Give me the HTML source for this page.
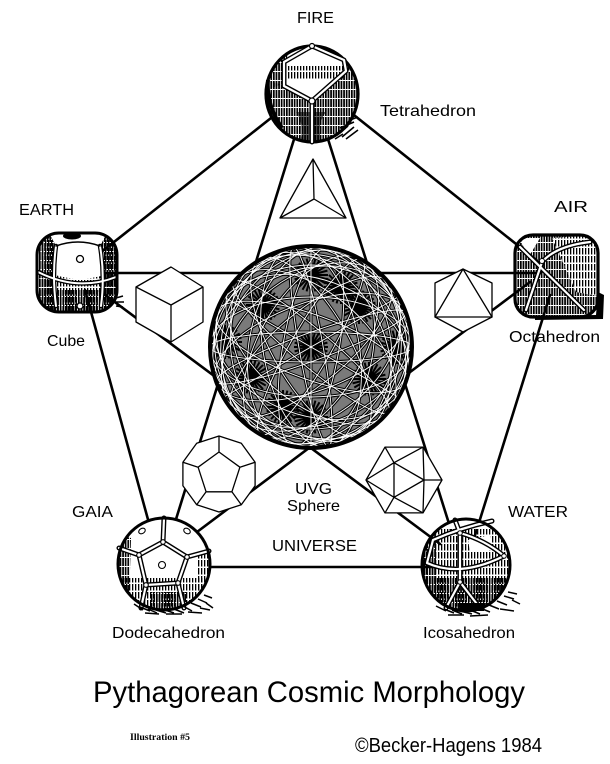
<!DOCTYPE html>
<html><head><meta charset="utf-8"><style>
html,body{margin:0;padding:0;background:#fff;}
svg{display:block;}
text{font-family:"Liberation Sans",sans-serif;fill:#000;}
</style></head><body>
<svg width="610" height="764" viewBox="0 0 610 764" xmlns="http://www.w3.org/2000/svg" xmlns:xlink="http://www.w3.org/1999/xlink">
<defs>
<pattern id="h1" width="3" height="8" patternUnits="userSpaceOnUse"><rect x="0" y="0" width="1.3" height="6.5" fill="#000"/></pattern>
<pattern id="h2" width="2.6" height="9" patternUnits="userSpaceOnUse"><rect x="0" y="0" width="1.7" height="8" fill="#000"/></pattern>
<pattern id="h3" width="4" height="6" patternUnits="userSpaceOnUse"><rect x="0" y="0" width="1" height="4" fill="#000"/></pattern>
<clipPath id="cs"><circle cx="311" cy="347" r="100"/></clipPath>
<clipPath id="cf"><ellipse cx="312" cy="94" rx="46" ry="48"/></clipPath>
<clipPath id="ce"><rect x="37" y="233" width="80" height="79" rx="22"/></clipPath>
<clipPath id="ca"><rect x="515" y="235" width="83" height="82" rx="18"/></clipPath>
<clipPath id="cg"><circle cx="164" cy="564" r="46"/></clipPath>
<clipPath id="cw"><ellipse cx="466" cy="565" rx="44" ry="46"/></clipPath>
<g id="gc" fill="none">
<ellipse rx="101" ry="15"/><ellipse rx="101" ry="50"/><ellipse rx="101" ry="82"/>
<ellipse rx="101" ry="32" transform="rotate(20)"/><ellipse rx="101" ry="68" transform="rotate(20)"/><ellipse rx="101" ry="92" transform="rotate(20)"/>
<ellipse rx="101" ry="18" transform="rotate(40)"/><ellipse rx="101" ry="55" transform="rotate(40)"/><ellipse rx="101" ry="85" transform="rotate(40)"/>
<ellipse rx="101" ry="38" transform="rotate(60)"/><ellipse rx="101" ry="72" transform="rotate(60)"/><ellipse rx="101" ry="95" transform="rotate(60)"/>
<ellipse rx="101" ry="12" transform="rotate(80)"/><ellipse rx="101" ry="48" transform="rotate(80)"/><ellipse rx="101" ry="80" transform="rotate(80)"/>
<ellipse rx="101" ry="28" transform="rotate(100)"/><ellipse rx="101" ry="62" transform="rotate(100)"/><ellipse rx="101" ry="90" transform="rotate(100)"/>
<ellipse rx="101" ry="20" transform="rotate(120)"/><ellipse rx="101" ry="52" transform="rotate(120)"/><ellipse rx="101" ry="84" transform="rotate(120)"/>
<ellipse rx="101" ry="36" transform="rotate(140)"/><ellipse rx="101" ry="70" transform="rotate(140)"/><ellipse rx="101" ry="94" transform="rotate(140)"/>
<ellipse rx="101" ry="14" transform="rotate(160)"/><ellipse rx="101" ry="44" transform="rotate(160)"/><ellipse rx="101" ry="78" transform="rotate(160)"/>
<path d="M0,-101L0,101 M-87,-50L87,50 M-87,50L87,-50"/>
</g>
<path id="star" fill="none" d="M-17,0L17,0 M-16.42,-4.4L16.42,4.4 M-14.72,-8.5L14.72,8.5 M-12.02,-12.02L12.02,12.02 M-8.5,-14.72L8.5,14.72 M-4.4,-16.42L4.4,16.42 M0,-17L0,17 M4.4,-16.42L-4.4,16.42 M8.5,-14.72L-8.5,14.72 M12.02,-12.02L-12.02,12.02 M14.72,-8.5L-14.72,8.5 M16.42,-4.4L-16.42,4.4"/>
</defs>

<!-- connectors -->
<g stroke="#000" stroke-width="2.6" fill="none" stroke-linecap="round">
<line x1="290" y1="103" x2="95" y2="257"/>
<line x1="335" y1="100" x2="540" y2="263"/>
<line x1="85" y1="290" x2="155" y2="545"/>
<line x1="550" y1="295" x2="472" y2="545"/>
<line x1="200" y1="567" x2="440" y2="567"/>
<line x1="100" y1="273" x2="540" y2="273"/>
<line x1="300" y1="120" x2="168" y2="545"/>
<line x1="322" y1="120" x2="451" y2="530"/>
<line x1="100" y1="291" x2="440" y2="544"/>
<line x1="530" y1="282" x2="185" y2="541"/>
</g>

<!-- central sphere -->
<circle cx="311" cy="347" r="101" fill="#7a7a7a"/>
<g clip-path="url(#cs)">
<use xlink:href="#gc" href="#gc" transform="translate(311,347)" stroke="#000" stroke-width="3"/>
<g stroke="#000" stroke-width="2">
<use xlink:href="#star" href="#star" transform="translate(311,347)"/>
<use xlink:href="#star" href="#star" transform="translate(263,305)"/>
<use xlink:href="#star" href="#star" transform="translate(359,307)"/>
<use xlink:href="#star" href="#star" transform="translate(251,377)"/>
<use xlink:href="#star" href="#star" transform="translate(369,379)"/>
<use xlink:href="#star" href="#star" transform="translate(311,275)"/>
<use xlink:href="#star" href="#star" transform="translate(311,417)"/>
<use xlink:href="#star" href="#star" transform="translate(225,342)"/>
<use xlink:href="#star" href="#star" transform="translate(397,347)"/>
<use xlink:href="#star" href="#star" transform="translate(283,407)"/>
<use xlink:href="#star" href="#star" transform="translate(341,287)"/>
</g>
<use xlink:href="#gc" href="#gc" transform="translate(311,347)" stroke="#fff" stroke-width="0.9"/>
</g>
<circle cx="311" cy="347" r="101" fill="none" stroke="#000" stroke-width="4"/>

<!-- small polyhedra -->
<g fill="#fff" stroke="#000" stroke-width="1.3" stroke-linejoin="round">
<polygon points="313,159 346,218 280,218"/>
<path d="M314,199L313,159 M314,199L280,218 M314,199L346,218" fill="none"/>
<polygon points="171,267 203,287 203,322 171,342 136,322 136,287"/>
<path d="M136,287L171,305L203,287 M171,305L171,342" fill="none"/>
<polygon points="463,269 492,283 492,317 463,332 435,317 435,283"/>
<path d="M463,269L435,317L492,317Z" fill="none"/>
<polygon points="219,436 241.3,443.3 255.1,462.3 255.1,485.7 241.3,504.7 219,512 196.7,504.7 182.9,485.7 182.9,462.3 196.7,443.3"/>
<path d="M219,452L239.9,467.2L231.9,491.8L206.1,491.8L198.1,467.2Z M219,452L219,436 M239.9,467.2L255.1,462.3 M231.9,491.8L241.3,504.7 M206.1,491.8L196.7,504.7 M198.1,467.2L182.9,462.3" fill="none"/>
<polygon points="442,480 423,512.9 385,512.9 366,480 385,447.1 423,447.1"/>
<path d="M424,480L394,497.3L394,462.7Z M424,480L423,447.1 M424,480L442,480 M424,480L423,512.9 M394,497.3L423,512.9 M394,497.3L385,512.9 M394,497.3L366,480 M394,462.7L366,480 M394,462.7L385,447.1 M394,462.7L423,447.1" fill="none"/>
</g>

<!-- FIRE globe -->
<ellipse cx="312" cy="94" rx="46" ry="48" fill="#fff"/>
<g clip-path="url(#cf)">
<path d="M260,78 L286,86 L312,101 L344,72 L365,68 L365,150 L260,150Z" fill="url(#h2)"/>
<rect x="284" y="66" width="60" height="13" fill="url(#h1)"/>
<path d="M262,58 Q272,48 288,52 L282,84 L262,92Z" fill="url(#h2)"/>
<path d="M340,52 Q355,58 362,70 L346,72Z" fill="url(#h1)"/>
<path d="M296,112 Q305,125 300,142 L322,142 Q316,125 326,112Z" fill="#000" opacity="0.6"/>
</g>
<ellipse cx="312" cy="94" rx="46" ry="48" fill="none" stroke="#000" stroke-width="3.2"/>
<path d="M268,80 Q266,105 282,128" fill="none" stroke="#000" stroke-width="4"/>
<g fill="none" stroke-linecap="round" stroke-linejoin="round">
<path d="M284,86 L312,101 L346,71 M312,101 L312,142 M312,46 L284,62 L284,86 M312,46 L344,60 L346,71" stroke="#000" stroke-width="5"/>
<path d="M284,86 L312,101 L346,71 M312,101 L312,142 M312,46 L284,62 L284,86 M312,46 L344,60 L346,71" stroke="#fff" stroke-width="2.2"/>
</g>
<circle cx="312" cy="101" r="3" fill="#fff" stroke="#000" stroke-width="1.2"/>
<circle cx="312" cy="46" r="2.5" fill="#fff" stroke="#000" stroke-width="1.2"/>
<path d="M338,134 l10,-8 M342,137 l12,-10 M346,139 l12,-9 M340,128 l14,-6 M350,120 l8,-3 M335,139 l8,-5" stroke="#000" stroke-width="1.6"/>

<!-- EARTH globe -->
<rect x="37" y="233" width="80" height="79" rx="22" fill="url(#h1)"/>
<g clip-path="url(#ce)">
<rect x="37" y="233" width="18" height="79" fill="url(#h2)"/>
<rect x="100" y="233" width="17" height="79" fill="url(#h2)"/>
<path d="M56,246 Q78,238 100,246 L101,276 Q78,282 55,275Z" fill="#fff"/>
<path d="M48,231 L108,231 L100,246 Q78,238 56,246Z" fill="#fff"/>
<ellipse cx="72" cy="236" rx="9" ry="3.5" fill="#000"/>
<rect x="37" y="290" width="80" height="24" fill="url(#h2)"/>
</g>
<g fill="none" stroke-linecap="round">
<path d="M56,246 Q52,275 56,306 M100,246 Q105,275 101,306 M38,272 Q78,292 116,277" stroke="#000" stroke-width="4.5"/>
<path d="M56,246 Q52,275 56,306 M100,246 Q105,275 101,306 M38,272 Q78,292 116,277" stroke="#fff" stroke-width="2"/>
<path d="M56,246 Q78,238 100,246" stroke="#000" stroke-width="1.5"/>
</g>
<rect x="37" y="233" width="80" height="79" rx="22" fill="none" stroke="#000" stroke-width="3"/>
<circle cx="80" cy="259" r="3.5" fill="#fff" stroke="#000" stroke-width="1.3"/>
<circle cx="80" cy="306" r="3" fill="#fff" stroke="#000" stroke-width="1.3"/>
<path d="M116,298 l7,-2 M116,302 l8,0 M116,306 l7,1" stroke="#000" stroke-width="1.5"/>

<!-- AIR globe -->
<rect x="515" y="235" width="83" height="82" rx="18" fill="url(#h2)"/>
<g clip-path="url(#ca)">
<path d="M552,238 L598,235 L598,296 L576,292Z" fill="#fff"/>
<path d="M552,238 L598,235 L598,296 L576,292Z" fill="url(#h1)"/>
<path d="M520,238 L540,238 L528,258Z" fill="#fff"/>
</g>
<path d="M598,292 L604,295 L603,319 L535,320 L535,316 L596,315Z" fill="#000"/>
<g fill="none" stroke-linecap="round">
<path d="M520,247 L584,310 M526,310 L542,262 Q556,246 590,242" stroke="#000" stroke-width="5"/>
<path d="M520,247 L584,310 M526,310 L542,262 Q556,246 590,242" stroke="#fff" stroke-width="2.2"/>
</g>
<circle cx="542" cy="261" r="2.5" fill="#fff" stroke="#000" stroke-width="1"/>
<rect x="515" y="235" width="83" height="82" rx="18" fill="none" stroke="#000" stroke-width="3.2"/>

<!-- GAIA globe -->
<circle cx="164" cy="564" r="46" fill="#fff"/>
<g clip-path="url(#cg)">
<rect x="118" y="578" width="92" height="34" fill="url(#h1)"/>
<path d="M118,535 L131,538 L129,602 L118,602Z" fill="url(#h2)"/>
<rect x="197" y="552" width="13" height="52" fill="url(#h1)"/>
<rect x="150" y="592" width="36" height="18" fill="url(#h2)"/>
</g>
<g fill="none" stroke-linecap="round" stroke-linejoin="round">
<path d="M163,542 L139,555 L146,585 L178,583 L187,557 Z M163,542 L164,518 M139,555 L119,548 M187,557 L209,551 M146,585 L141,608 M178,583 L184,608" stroke="#000" stroke-width="5"/>
<path d="M163,542 L139,555 L146,585 L178,583 L187,557 Z M163,542 L164,518 M139,555 L119,548 M187,557 L209,551 M146,585 L141,608 M178,583 L184,608" stroke="#fff" stroke-width="2.2"/>
</g>
<g fill="#fff" stroke="#000" stroke-width="1.1">
<circle cx="163" cy="542" r="2.3"/><circle cx="139" cy="555" r="2.3"/><circle cx="187" cy="557" r="2.3"/><circle cx="146" cy="585" r="2.3"/><circle cx="178" cy="583" r="2.3"/>
<circle cx="162" cy="565" r="3.5"/>
<ellipse cx="142" cy="531" rx="3.5" ry="2.5" transform="rotate(-30 142 531)"/>
<ellipse cx="187" cy="531" rx="3.5" ry="2.5" transform="rotate(30 187 531)"/>
</g>
<circle cx="164" cy="564" r="46" fill="none" stroke="#000" stroke-width="3"/>
<path d="M134,604 l9,6 M140,607 l10,4 M148,609 l9,4 M156,610 l10,3 M165,610 l9,3 M174,609 l10,4 M183,606 l9,5 M191,603 l10,4 M198,599 l9,4 M204,595 l8,3 M200,608 l10,2 M145,613 l14,1 M166,614 l16,0 M188,612 l14,1 M206,603 l7,5" stroke="#000" stroke-width="1.5"/>

<!-- WATER globe -->
<ellipse cx="466" cy="565" rx="44" ry="46" fill="url(#h1)"/>
<g clip-path="url(#cw)">
<rect x="440" y="519" width="50" height="10" fill="#fff"/>
<rect x="422" y="578" width="88" height="40" fill="url(#h2)"/>
<rect x="422" y="519" width="14" height="93" fill="url(#h2)"/>
<path d="M468,540 L490,535 L492,550 L470,552Z" fill="#fff"/>
</g>
<g fill="none" stroke-linecap="round" stroke-linejoin="round">
<path d="M433,540 Q460,528 492,521 M460,533 L460,582 M427,563 Q460,578 504,556 M460,533 Q485,540 504,556 M460,582 L446,608 M460,582 L480,608 M433,540 L427,563 M460,533 L455,520" stroke="#000" stroke-width="5"/>
<path d="M433,540 Q460,528 492,521 M460,533 L460,582 M427,563 Q460,578 504,556 M460,533 Q485,540 504,556 M460,582 L446,608 M460,582 L480,608 M433,540 L427,563 M460,533 L455,520" stroke="#fff" stroke-width="2.2"/>
</g>
<g fill="#fff" stroke="#000" stroke-width="1"><circle cx="460" cy="533" r="2.3"/><circle cx="460" cy="582" r="2.3"/><circle cx="504" cy="556" r="2.3"/></g>
<ellipse cx="466" cy="565" rx="44" ry="46" fill="none" stroke="#000" stroke-width="3"/>
<path d="M436,606 l10,5 M444,609 l10,4 M452,610 l10,4 M460,611 l12,3 M470,610 l10,4 M480,608 l10,4 M489,605 l10,4 M497,601 l10,4 M504,596 l10,3 M508,592 l9,2 M500,609 l14,2 M448,615 l16,0 M470,616 l18,-1 M512,600 l8,4" stroke="#000" stroke-width="1.5"/>
<path d="M458,603 L486,603 L484,611 L460,611Z" fill="#000"/>

<!-- labels -->
<g font-size="16">
<text x="297" y="23" textLength="37" lengthAdjust="spacingAndGlyphs">FIRE</text>
<text x="380" y="116" textLength="96" lengthAdjust="spacingAndGlyphs">Tetrahedron</text>
<text x="19" y="215" textLength="55" lengthAdjust="spacingAndGlyphs">EARTH</text>
<text x="554" y="212" textLength="34" lengthAdjust="spacingAndGlyphs">AIR</text>
<text x="47" y="346" textLength="38" lengthAdjust="spacingAndGlyphs">Cube</text>
<text x="509" y="342" textLength="91" lengthAdjust="spacingAndGlyphs">Octahedron</text>
<text x="72" y="517" textLength="41" lengthAdjust="spacingAndGlyphs">GAIA</text>
<text x="508" y="517" textLength="60" lengthAdjust="spacingAndGlyphs">WATER</text>
<text x="295" y="494" textLength="37" lengthAdjust="spacingAndGlyphs">UVG</text>
<text x="287" y="511" textLength="53" lengthAdjust="spacingAndGlyphs">Sphere</text>
<text x="272" y="551" textLength="85" lengthAdjust="spacingAndGlyphs">UNIVERSE</text>
<text x="112" y="638" textLength="113" lengthAdjust="spacingAndGlyphs">Dodecahedron</text>
<text x="423" y="638" textLength="92" lengthAdjust="spacingAndGlyphs">Icosahedron</text>
</g>
<text x="93" y="702" font-size="30" textLength="432" lengthAdjust="spacingAndGlyphs">Pythagorean Cosmic Morphology</text>
<text x="130" y="740" font-size="9" font-weight="bold" style="font-family:'Liberation Serif',serif" textLength="60" lengthAdjust="spacingAndGlyphs">Illustration #5</text>
<text x="355" y="752" font-size="20" textLength="187" lengthAdjust="spacingAndGlyphs">©Becker-Hagens 1984</text>
</svg>
</body></html>
